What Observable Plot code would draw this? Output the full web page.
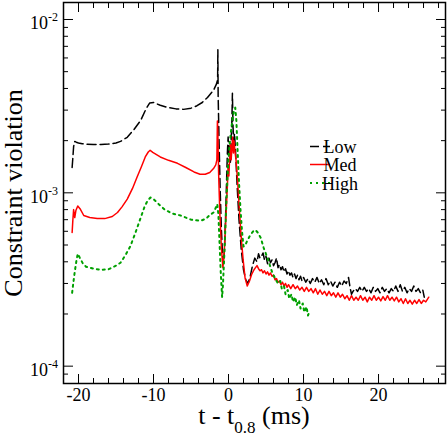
<!DOCTYPE html>
<html><head><meta charset="utf-8">
<script src="https://cdn.jsdelivr.net/npm/d3@7"></script>
<script src="https://cdn.jsdelivr.net/npm/@observablehq/plot@0.6"></script>
<style>
html,body{margin:0;padding:0;background:#fff;}
svg{display:block}
svg text, svg tspan{font-family: "Liberation Serif", Liberation Serif, "Times New Roman", Times, "DejaVu Serif", serif !important;}
</style>
</head><body><div id="chart"></div>
<script>
// ---- Data (t - t0.8 in ms, constraint violation) ----
const lowT = [-20.85,-20.75,-20.65,-20.5,-20.3,-20.0,-19.5,-19.0,-18.0,-17.0,-16.0,-15.0,-14.4,-13.5,-12.6,-11.7,-11.0,-10.5,-10.0,-9.1,-8.0,-7.0,-6.0,-5.0,-4.2,-3.5,-2.8,-2.0,-1.6,-1.45,-1.42,-1.38,-1.25,-1.1,-0.95,-0.8,-0.68,-0.55,-0.4,-0.25,-0.15,-0.05,0.05,0.15,0.25,0.35,0.45,0.52,0.6,0.7,0.8,0.95,1.15,1.4,1.7,2.0,2.3,2.6,2.9,3.2,3.5,3.8,4.0,4.2,
  4.4,4.6,4.8,5.0,5.2,5.4,5.6,5.8,6.0,6.2,6.4,6.6,6.8,7.0,7.2,7.4,7.6,7.8,8.0,8.2,8.4,8.6,8.8,9.0,9.2,9.4,9.6,9.8,10.0,10.3,10.6,10.9,11.2,11.5,11.8,12.1,12.4,12.7,13.0,13.3,13.6,13.9,14.2,14.5,14.8,15.1,15.4,15.7,16.0,16.2,16.4,16.6,16.9,17.2,17.5,17.8,18.1,18.4,18.7,19.0,19.3,19.6,19.9,20.2,20.5,20.8,21.1,21.4,21.7,22.0,22.3,22.6,22.9,23.2,23.5,23.8,24.1,24.4,24.7,25.0,25.3,25.6,25.9,26.1];
const lowV = [1.40e-3,1.60e-3,1.85e-3,1.98e-3,1.96e-3,1.94e-3,1.92e-3,1.91e-3,1.90e-3,1.90e-3,1.91e-3,1.94e-3,1.98e-3,2.09e-3,2.32e-3,2.62e-3,3.05e-3,3.30e-3,3.32e-3,3.20e-3,3.10e-3,3.05e-3,3.03e-3,3.08e-3,3.18e-3,3.32e-3,3.55e-3,3.90e-3,4.25e-3,4.5e-3,6.7e-3,3.6e-3,1.9e-3,1.0e-3,6.2e-4,4.4e-4,3.9e-4,4.6e-4,7.0e-4,1.2e-3,1.7e-3,2.1e-3,1.6e-3,1.9e-3,1.5e-3,2.0e-3,2.6e-3,3.75e-3,2.4e-3,2.0e-3,2.2e-3,1.7e-3,1.1e-3,7.0e-4,4.7e-4,3.6e-4,3.15e-4,3.0e-4,3.3e-4,3.8e-4,4.2e-4,4.0e-4,4.45e-4,4.2e-4,
  4.3e-4,4.5e-4,4.1e-4,4.3e-4,3.9e-4,4.2e-4,3.95e-4,4.1e-4,3.8e-4,3.95e-4,4.2e-4,3.7e-4,3.85e-4,3.6e-4,3.75e-4,3.5e-4,3.65e-4,3.4e-4,3.55e-4,3.35e-4,3.45e-4,3.25e-4,3.4e-4,3.2e-4,3.35e-4,3.15e-4,3.3e-4,3.1e-4,3.25e-4,3.05e-4,3.2e-4,3.0e-4,3.2e-4,3.05e-4,3.25e-4,3.0e-4,3.15e-4,2.95e-4,3.2e-4,2.95e-4,3.1e-4,2.9e-4,3.05e-4,2.85e-4,3.05e-4,2.9e-4,3.1e-4,3.0e-4,3.25e-4,2.85e-4,2.6e-4,2.7e-4,2.8e-4,2.7e-4,2.85e-4,2.7e-4,2.85e-4,2.7e-4,2.8e-4,2.65e-4,2.85e-4,2.7e-4,2.8e-4,2.65e-4,2.85e-4,2.7e-4,2.8e-4,2.65e-4,2.8e-4,2.7e-4,2.9e-4,2.7e-4,2.95e-4,2.7e-4,2.85e-4,2.65e-4,2.8e-4,2.7e-4,2.9e-4,2.7e-4,2.8e-4,2.65e-4,2.75e-4,2.5e-4];

const medT = [-20.85,-20.75,-20.65,-20.5,-20.35,-20.1,-19.8,-19.3,-18.5,-17.5,-16.5,-15.5,-14.8,-14.2,-13.5,-12.8,-12.2,-11.6,-11.1,-10.7,-10.45,-10.1,-9.1,-8.0,-6.8,-5.7,-4.6,-3.8,-3.1,-2.5,-2.0,-1.7,-1.55,-1.48,-1.42,-1.32,-1.15,-0.95,-0.75,-0.6,-0.45,-0.3,-0.15,-0.05,0.05,0.15,0.25,0.35,0.45,0.55,0.65,0.72,0.85,1.0,1.2,1.45,1.7,1.95,2.2,2.5,2.8,3.1,
  3.4,3.6,3.8,4.0,4.2,4.4,4.6,4.8,5.0,5.2,5.4,5.6,5.8,6.0,6.2,6.4,6.6,6.8,7.0,7.2,7.4,7.6,7.8,8.0,8.3,8.6,8.9,9.2,9.5,9.8,10.1,10.4,10.7,11.0,11.3,11.6,11.9,12.2,12.5,12.8,13.1,13.4,13.7,14.0,14.3,14.6,14.9,15.2,15.5,15.8,16.1,16.4,16.7,17.0,17.3,17.6,17.9,18.2,18.5,18.8,19.1,19.4,19.7,20.0,20.3,20.6,20.9,21.2,21.5,21.8,22.1,22.4,22.7,23.0,23.3,23.6,23.9,24.2,24.5,24.8,25.1,25.4,25.7,26.0,26.3,26.7];
const medV = [5.9e-4,7.0e-4,8.0e-4,7.2e-4,7.9e-4,8.4e-4,8.1e-4,7.4e-4,7.2e-4,7.1e-4,7.1e-4,7.3e-4,7.7e-4,8.3e-4,9.2e-4,1.06e-3,1.23e-3,1.42e-3,1.61e-3,1.72e-3,1.76e-3,1.71e-3,1.61e-3,1.54e-3,1.48e-3,1.40e-3,1.32e-3,1.28e-3,1.28e-3,1.31e-3,1.38e-3,1.45e-3,1.55e-3,2.6e-3,2.2e-3,1.3e-3,7.5e-4,4.8e-4,3.7e-4,4.3e-4,5.8e-4,8.0e-4,1.1e-3,1.45e-3,1.25e-3,1.6e-3,1.9e-3,1.55e-3,1.8e-3,2.1e-3,1.7e-3,2.0e-3,1.75e-3,1.55e-3,1.2e-3,8.0e-4,5.5e-4,4.1e-4,3.25e-4,2.9e-4,3.1e-4,3.4e-4,
  3.6e-4,3.7e-4,3.8e-4,3.65e-4,3.55e-4,3.6e-4,3.45e-4,3.55e-4,3.4e-4,3.5e-4,3.35e-4,3.45e-4,3.3e-4,3.35e-4,3.15e-4,3.2e-4,3.05e-4,3.1e-4,2.95e-4,3.05e-4,2.9e-4,3.0e-4,2.85e-4,2.95e-4,2.8e-4,2.95e-4,2.8e-4,2.9e-4,2.75e-4,2.85e-4,2.7e-4,2.85e-4,2.7e-4,2.8e-4,2.65e-4,2.8e-4,2.6e-4,2.75e-4,2.6e-4,2.7e-4,2.55e-4,2.7e-4,2.55e-4,2.65e-4,2.5e-4,2.65e-4,2.5e-4,2.6e-4,2.45e-4,2.55e-4,2.4e-4,2.55e-4,2.4e-4,2.5e-4,2.4e-4,2.55e-4,2.4e-4,2.5e-4,2.35e-4,2.5e-4,2.4e-4,2.55e-4,2.4e-4,2.5e-4,2.38e-4,2.52e-4,2.4e-4,2.55e-4,2.4e-4,2.5e-4,2.38e-4,2.5e-4,2.35e-4,2.45e-4,2.3e-4,2.45e-4,2.3e-4,2.4e-4,2.28e-4,2.4e-4,2.3e-4,2.42e-4,2.3e-4,2.4e-4,2.35e-4,2.5e-4];

const highT = [-20.85,-20.7,-20.5,-20.3,-20.1,-19.8,-19.4,-19.0,-18.0,-17.0,-16.0,-15.0,-14.4,-13.7,-13.1,-12.4,-11.7,-11.2,-10.8,-10.4,-10.0,-9.3,-8.5,-7.5,-6.4,-5.0,-3.7,-3.0,-2.4,-2.0,-1.7,-1.5,-1.35,-1.2,-1.05,-0.92,-0.85,-0.75,-0.6,-0.45,-0.3,-0.15,0.0,0.15,0.3,0.45,0.6,0.75,0.9,1.05,1.2,1.4,1.6,1.8,2.0,2.2,2.5,2.9,3.3,3.6,3.9,4.3,
  4.7,5.2,5.8,6.3,6.6,6.9,7.1,7.4,7.6,7.9,8.1,8.4,8.6,8.9,9.1,9.4,9.6,9.9,10.1,10.4,10.6,10.85];
const highV = [2.65e-4,3.0e-4,3.5e-4,4.0e-4,4.45e-4,4.2e-4,3.9e-4,3.75e-4,3.65e-4,3.6e-4,3.62e-4,3.8e-4,3.95e-4,4.4e-4,4.9e-4,5.9e-4,7.2e-4,8.3e-4,9.0e-4,9.4e-4,9.2e-4,8.6e-4,8.0e-4,7.6e-4,7.4e-4,7.0e-4,6.9e-4,7.1e-4,7.5e-4,7.7e-4,8.2e-4,8.6e-4,7.5e-4,5.2e-4,3.6e-4,2.8e-4,2.5e-4,2.9e-4,4.0e-4,5.8e-4,8.5e-4,1.2e-3,1.6e-3,1.9e-3,2.2e-3,2.5e-3,2.8e-3,3.0e-3,3.1e-3,2.6e-3,1.8e-3,1.15e-3,8.0e-4,6.0e-4,4.9e-4,4.95e-4,5.3e-4,5.7e-4,6.0e-4,6.1e-4,5.9e-4,5.5e-4,
  4.8e-4,4.2e-4,3.5e-4,3.15e-4,3.0e-4,3.1e-4,2.8e-4,2.9e-4,2.6e-4,2.75e-4,2.45e-4,2.6e-4,2.35e-4,2.5e-4,2.25e-4,2.4e-4,2.15e-4,2.3e-4,2.05e-4,2.2e-4,1.96e-4,2.1e-4];

const seriesNames = ["Low", "Med", "High"];
const xMajor = [-20, -10, 0, 10, 20];
const xMinor = [-18,-16,-14,-12,-8,-6,-4,-2,2,4,6,8,12,14,16,18,22,24,26,28];
const yMajor = [1e-4, 1e-3, 1e-2];
const yMinor = [9e-5, 2e-4,3e-4,4e-4,5e-4,6e-4,7e-4,8e-4,9e-4, 2e-3,3e-3,4e-3,5e-3,6e-3,7e-3,8e-3,9e-3];
const yExp = ["-4", "-3", "-2"];

// ---- Styles ----
const colors = ["#000000", "#ff0000", "#00a000"];
const dashes = ["9,4", null, "2,4"];
const widths = [1.5, 1.5, 2];
const font = "Liberation Serif, Times New Roman, Times, DejaVu Serif, serif";

const rows = (T, V) => T.map((t, i) => ({t, v: V[i]}));
const noText = () => "";

const chart = Plot.plot({
  width: 447, height: 437,
  marginLeft: 63, marginRight: 2, marginTop: 2, marginBottom: 54,
  style: {fontFamily: font, fontSize: "18px", background: "#fff", color: "#000"},
  x: {domain: [-22, 28.93]},
  y: {type: "log", domain: [10 ** -4.1, 10 ** -1.902]},
  marks: [
    Plot.line(rows(lowT, lowV), {x: "t", y: "v", stroke: colors[0], strokeWidth: widths[0], strokeDasharray: dashes[0]}),
    Plot.line(rows(medT, medV), {x: "t", y: "v", stroke: colors[1], strokeWidth: widths[1]}),
    Plot.line(rows(highT, highV), {x: "t", y: "v", stroke: colors[2], strokeWidth: widths[2], strokeDasharray: dashes[2]}),
    // inward ticks
    Plot.axisX(xMajor, {anchor: "bottom", tickSize: 9, dy: -9, tickFormat: noText, label: null}),
    Plot.axisX(xMinor, {anchor: "bottom", tickSize: 5, dy: -5, tickFormat: noText, label: null}),
    Plot.axisX(xMajor, {anchor: "top", tickSize: 9, dy: 9, tickFormat: noText, label: null}),
    Plot.axisX(xMinor, {anchor: "top", tickSize: 5, dy: 5, tickFormat: noText, label: null}),
    Plot.axisY(yMajor, {anchor: "left", tickSize: 10, dx: 10, tickFormat: noText, label: null}),
    Plot.axisY(yMinor, {anchor: "left", tickSize: 5, dx: 5, tickFormat: noText, label: null}),
    Plot.axisY(yMajor, {anchor: "right", tickSize: 10, dx: -10, tickFormat: noText, label: null}),
    Plot.axisY(yMinor, {anchor: "right", tickSize: 5, dx: -5, tickFormat: noText, label: null}),
    // x tick labels
    Plot.axisX(xMajor, {anchor: "bottom", tickSize: 0, tickPadding: 5, tickFormat: d => String(d), label: null, fontSize: 18}),
    Plot.frame({stroke: "#000", strokeWidth: 1.5})
  ]
});
document.getElementById("chart").appendChild(chart);

const svg = d3.select(chart);
const ys = chart.scale("y");

// y tick labels with superscripts
yMajor.forEach((v, i) => {
  const y = ys.apply(v);
  const t = svg.append("text").attr("x", 58).attr("y", y + 10.5)
    .attr("text-anchor", "end").style("font-family", font).attr("font-size", 18).attr("fill", "#000");
  t.append("tspan").text("10");
  t.append("tspan").attr("dy", -8).attr("font-size", 12).text(yExp[i]);
});

// axis titles
const xl = svg.append("text").attr("x", 254).attr("y", 424).attr("text-anchor", "middle")
  .style("font-family", font).attr("font-size", 26).attr("fill", "#000");
xl.append("tspan").text("t - t");
xl.append("tspan").attr("dy", 8.5).attr("font-size", 17).text("0.8");
xl.append("tspan").attr("dy", -8.5).text(" (ms)");

svg.append("text").attr("transform", "translate(21.5,193) rotate(-90)").attr("text-anchor", "middle")
  .style("font-family", font).attr("font-size", 26).attr("fill", "#000").text("Constraint violation");

// legend
const legY = [146.5, 164.5, 183];
seriesNames.forEach((name, i) => {
  const ln = svg.append("line").attr("x1", 310).attr("x2", 330).attr("y1", legY[i]).attr("y2", legY[i])
    .attr("stroke", colors[i]).attr("stroke-width", widths[i]);
  if (dashes[i]) ln.attr("stroke-dasharray", dashes[i]);
  svg.append("text").attr("x", 340).attr("y", legY[i] + 6.8).style("font-family", font).attr("font-size", 18)
    .attr("fill", "#000").text(name);
});
</script>
</body></html>
